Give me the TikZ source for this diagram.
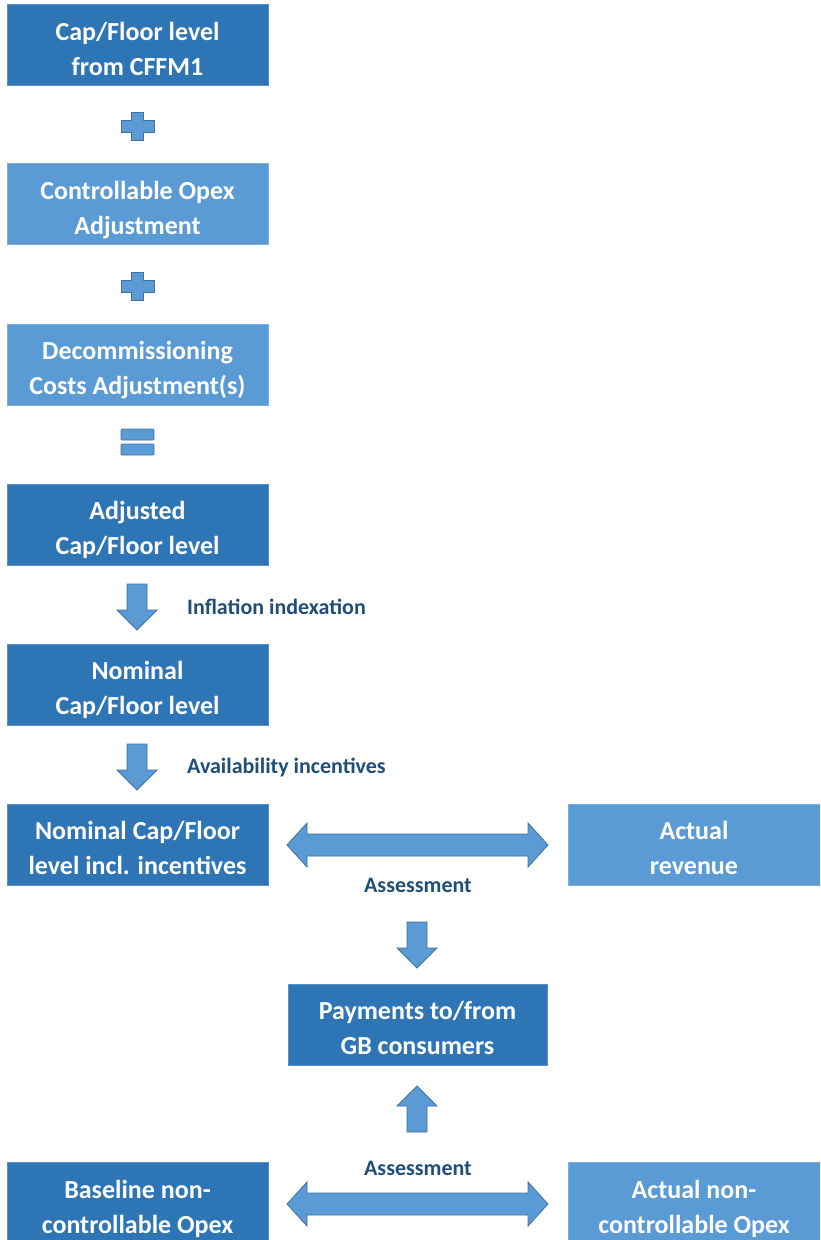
\documentclass[tikz,border=0pt]{standalone}
\usepackage{fontspec}
\setmainfont{Carlito}
\definecolor{dk}{HTML}{2E75B6}
\definecolor{lt}{HTML}{5B9BD5}
\definecolor{ab}{HTML}{41719C}
\definecolor{lbl}{HTML}{1F4E79}
\newcommand\tsr{\rule{0pt}{30pt}}
\newcommand\bsr{\rule[-5pt]{0pt}{5pt}}
\newcommand\dnarrow[2]{%
  \filldraw[blockarrow] ({#1-10},#2) -- ({#1+10},#2) -- ({#1+10},{#2+26}) -- ({#1+20},{#2+26}) -- (#1,{#2+46}) -- ({#1-20},{#2+26}) -- ({#1-10},{#2+26}) -- cycle;}
\newcommand\uparrowblk[2]{%
  \filldraw[blockarrow] ({#1-10},#2) -- ({#1+10},#2) -- ({#1+10},{#2-26}) -- ({#1+20},{#2-26}) -- (#1,{#2-46}) -- ({#1-20},{#2-26}) -- ({#1-10},{#2-26}) -- cycle;}
\newcommand\dblarrow[3]{% x1 x2 ycenter
  \filldraw[blockarrow] (#1,#3) -- ({#1+20},{#3-22}) -- ({#1+20},{#3-11}) -- ({#2-20},{#3-11}) -- ({#2-20},{#3-22}) -- (#2,#3) -- ({#2-20},{#3+22}) -- ({#2-20},{#3+11}) -- ({#1+20},{#3+11}) -- ({#1+20},{#3+22}) -- cycle;}
\begin{document}
\begin{tikzpicture}[x=1pt,y=-1pt,
  box/.style={minimum width=261pt, minimum height=81pt, inner sep=0pt, text=white,
    font=\fontsize{26}{35}\selectfont\bfseries, align=center},
  darkbox/.style={box, fill=dk, draw=dk!80!white, line width=0.6pt},
  lightbox/.style={box, fill=lt, draw=lt!80!white, line width=0.6pt},
  blockarrow/.style={fill=lt, draw=ab, line width=0.8pt, line join=miter},
  lab/.style={text=lbl, font=\fontsize{22}{24}\selectfont\bfseries, inner sep=0pt}]
\useasboundingbox (0,0) rectangle (820,1240);
\begin{scope}
\clip (0,0) rectangle (820,1240);
\node[darkbox] (b1) at (137.5,45) {\tsr Cap/Floor level\\from CFFM1\bsr};
\node[lightbox] (b2) at (137.5,204) {\tsr Controllable Opex\\Adjustment\bsr};
\node[lightbox] (b3) at (137.5,364.5) {\tsr Decommissioning\\Costs Adjustment(s)\bsr};
\node[darkbox] (b4) at (137.5,524.5) {\tsr Adjusted\\Cap/Floor level\bsr};
\node[darkbox] (b5) at (137.5,684.5) {\tsr Nominal\\Cap/Floor level\bsr};
\node[darkbox] (b6) at (137.5,844.5) {\tsr Nominal Cap/Floor\\level incl. incentives\bsr};
\node[lightbox, minimum width=252pt] (r1) at (694,844.5) {\tsr Actual\\revenue\bsr};
\node[darkbox, minimum width=259pt] (pay) at (417.5,1024.5) {\tsr Payments to/from\\GB consumers\bsr};
\node[darkbox] (bl) at (137.5,1203) {\tsr Baseline non-\\controllable Opex\bsr};
\node[lightbox, minimum width=252pt] (br) at (694,1203) {\tsr Actual non-\\controllable Opex\bsr};
\end{scope}
% plus signs
\foreach \cy in {126,286}{
  \filldraw[blockarrow, line width=0.7pt] (131.5,{\cy-14}) -- (143.5,{\cy-14}) -- (143.5,{\cy-6}) -- (154,{\cy-6}) -- (154,{\cy+6}) -- (143.5,{\cy+6}) -- (143.5,{\cy+14}) -- (131.5,{\cy+14}) -- (131.5,{\cy+6}) -- (121,{\cy+6}) -- (121,{\cy-6}) -- (131.5,{\cy-6}) -- cycle;}
% equals
\filldraw[blockarrow, line width=0.7pt, rounded corners=1pt] (121,429) rectangle (154,440);
\filldraw[blockarrow, line width=0.7pt, rounded corners=1pt] (121,444) rectangle (154,455);
% down arrows
\dnarrow{137}{584}
\dnarrow{137}{744}
\dnarrow{417}{922}
\uparrowblk{417}{1132}
\dblarrow{287}{548}{845}
\dblarrow{287}{548}{1204}
% labels
\node[lab, anchor=west] (l1) at (187,607) {Inflation indexation};
\node[lab, anchor=west] (l2) at (187,767) {Availability incentives};
\node[lab] (a1) at (418,885) {Assessment};
\node[lab] (a2) at (418,1168) {Assessment};
\end{tikzpicture}
\end{document}
